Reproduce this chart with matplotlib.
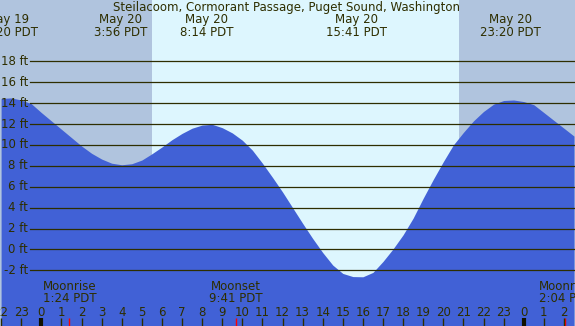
import numpy as np
import matplotlib
matplotlib.use("Agg")
import matplotlib.pyplot as plt

# tide height (ft) every half hour, hour 0 = May 20 00:00
hours = np.arange(-2.0, 27.0, 0.5)
heights = [14.45, 14.5, 14.3, 13.95, 13.1, 12.3, 11.5, 10.7, 9.9, 9.2,
           8.65, 8.25, 8.1, 8.2, 8.55, 9.15, 9.8, 10.5, 11.1, 11.6,
           11.9, 11.97, 11.65, 11.15, 10.45, 9.5, 8.25, 6.9, 5.5, 4.0,
           2.5, 1.05, -0.3, -1.5, -2.3, -2.6, -2.62, -2.2, -1.15, 0.05,
           1.4, 3.0, 4.9, 6.7, 8.4, 10.0, 11.2, 12.3, 13.2, 13.9,
           14.25, 14.3, 14.15, 13.85, 13.1, 12.35, 11.6, 10.85]

# high / low tide labels
ext_hours = [-1.667, 3.933, 8.233, 15.683, 23.333]
ext_days = ["May 19", "May 20", "May 20", "May 20", "May 20"]
ext_times = ["22:20 PDT", "3:56 PDT", "8:14 PDT", "15:41 PDT", "23:20 PDT"]

# moon events
moon_hours = [1.4, 9.683, 26.067]
moon_names = ["Moonrise", "Moonset", "Moonrise"]
moon_times = ["1:24 PDT", "9:41 PDT", "2:04 PDT"]

sunrise = 5.51
sunset = 20.78
level_ticks = list(range(-2, 20, 2))
hour_ticks = list(range(-2, 27))

title = "Steilacoom, Cormorant Passage, Puget Sound, Washington"

night = "#b0c4de"
day = "#ddf6fe"
water = "#4161d6"
ink = "#2e2e00"
fs = 8.5

fig = plt.figure(figsize=(5.75, 3.26), dpi=100)
ax = fig.add_axes([0, 0, 1, 1])
ax.set_xlim(-2.055, 26.552)
ax.set_ylim(-7.33, 23.87)
ax.axis("off")

ax.axvspan(-2.055, sunrise, color=night, lw=0, zorder=0)
ax.axvspan(sunrise, sunset, color=day, lw=0, zorder=0)
ax.axvspan(sunset, 26.552, color=night, lw=0, zorder=0)

ax.fill_between(hours, -7.33, heights, color=water, lw=0, zorder=1)

for lv in level_ticks:
    ax.axhline(lv, xmin=30 / 575, xmax=1, color=ink, lw=0.9, zorder=2)
    ax.text(-0.65, lv, f"{lv} ft", ha="right", va="center", fontsize=fs, color=ink)

ax.text(0.499, 0.977, title, transform=ax.transAxes, ha="center", va="center",
        fontsize=fs, color=ink)

top = ax.get_xaxis_transform()
for h, d, t in zip(ext_hours, ext_days, ext_times):
    ax.text(h, 1 - 20 / 326, d, transform=top, ha="center", va="center", fontsize=fs, color=ink)
    ax.text(h, 1 - 32 / 326, t, transform=top, ha="center", va="center", fontsize=fs, color=ink)

for h, n, t in zip(moon_hours, moon_names, moon_times):
    ax.text(h, 39 / 326, n, transform=top, ha="center", va="center", fontsize=fs, color=ink)
    ax.text(h, 27 / 326, t, transform=top, ha="center", va="center", fontsize=fs, color=ink)
    ax.vlines(h, 0, 8 / 326, transform=top, color="red", lw=1, zorder=3)

for h in hour_ticks:
    ax.text(h, 14 / 326, str(h % 24), transform=top, ha="center", va="center",
            fontsize=fs, color=ink)
    if h % 24 == 0:
        ax.vlines(h, 0, 8 / 326, transform=top, color="#111100", lw=3, zorder=3)
    else:
        ax.vlines(h, 0, 8 / 326, transform=top, color=ink, lw=1, zorder=3)

fig.savefig("out.png", dpi=100)
